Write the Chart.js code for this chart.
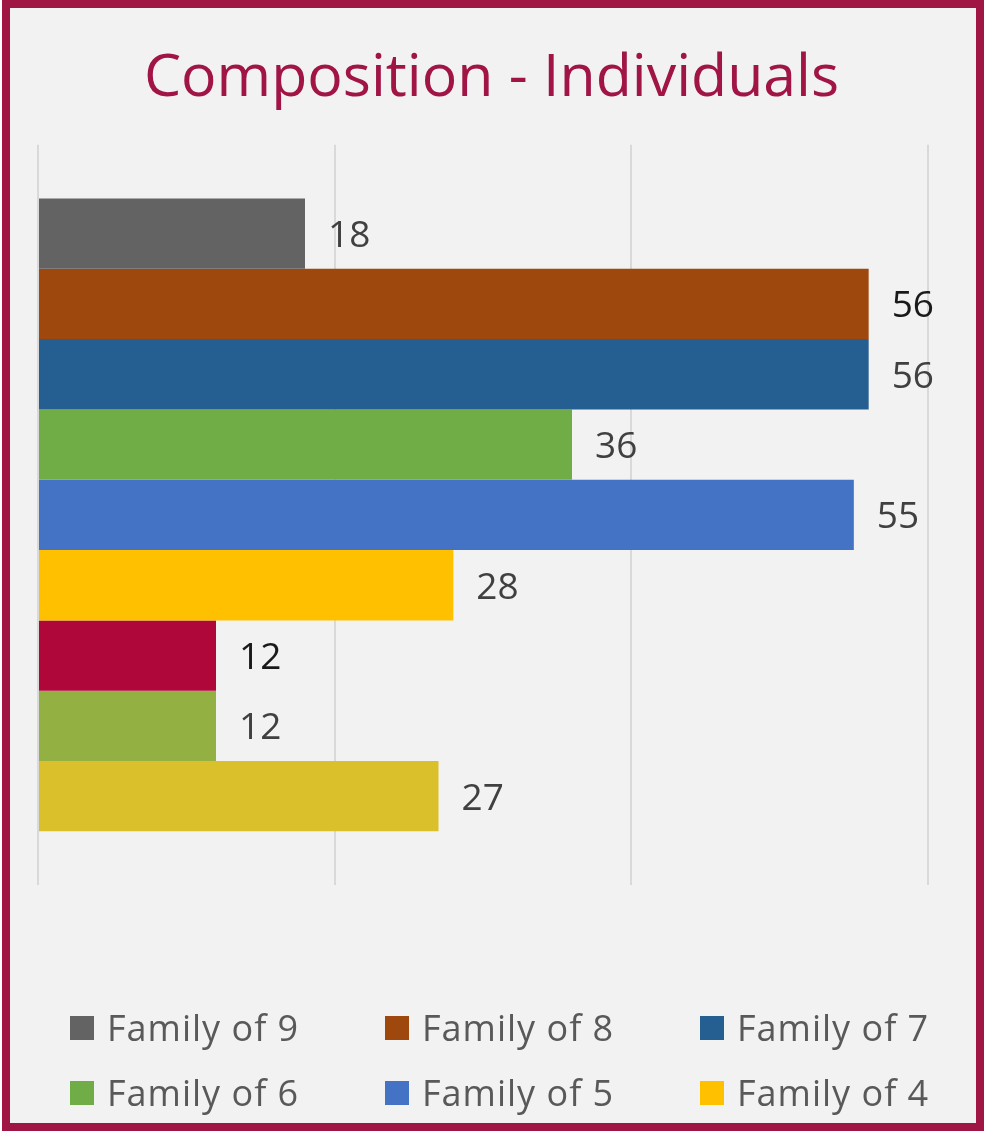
<!DOCTYPE html>
<html>
<head>
<meta charset="utf-8">
<title>Composition - Individuals</title>
<script src="https://cdn.jsdelivr.net/npm/chart.js@4.4.1/dist/chart.umd.min.js"></script>
<style>
    html, body {
        margin: 0;
        padding: 0;
        background: #ffffff;
    }
    .frame {
        position: absolute;
        left: 2px;
        top: 0;
        width: 982px;
        height: 1131px;
        box-sizing: border-box;
        border: 8px solid #9f1644;
        background: #f2f2f2;
    }
    .chart-wrap {
        position: absolute;
        left: 0;
        top: 0;
        width: 984px;
        height: 1132px;
    }
    .legend-item {
        position: absolute;
        display: flex;
        align-items: center;
        font-family: "Open Sans", sans-serif;
        font-size: 36px;
        letter-spacing: 1px;
        color: #595959;
        white-space: nowrap;
    }
    .legend-box {
        width: 24px;
        height: 24px;
        margin-right: 13px;
    }
</style>
</head>
<body>
<div class="frame"></div>
<div class="chart-wrap">
    <canvas id="composition-chart" width="984" height="1132"></canvas>
</div>
<div id="legend"></div>

<script>
// Chart data
const chartTitle = 'Composition - Individuals';
const familyLabels = ['Family of 9', 'Family of 8', 'Family of 7', 'Family of 6', 'Family of 5',
    'Family of 4', 'Family of 3', 'Family of 2', 'Family of 1'];
const individuals = [18, 56, 56, 36, 55, 28, 12, 12, 27];
const xTicks = [0, 20, 40, 60];

// Only the first six families show up in the legend of the original
const legendCount = 6;

const barColors = ['#636363', '#9e480e', '#255e91', '#70ad47', '#4472c4',
    '#ffc000', '#b0073a', '#93b042', '#dac02a'];
const labelColors = ['#404040', '#1a1a1a', '#404040', '#404040', '#404040',
    '#404040', '#1a1a1a', '#404040', '#404040'];

// Value labels at the end of each bar
const valueLabels = {
    id: 'valueLabels',
    afterDatasetsDraw(chart) {
        const ctx = chart.ctx;
        ctx.save();
        ctx.font = '37px "Open Sans", sans-serif';
        ctx.textAlign = 'left';
        ctx.textBaseline = 'middle';
        chart.data.datasets.forEach((ds, i) => {
            const meta = chart.getDatasetMeta(i);
            meta.data.forEach((bar, j) => {
                ctx.fillStyle = labelColors[i];
                ctx.fillText(ds.data[j], bar.x + 23, bar.y + 3);
            });
        });
        ctx.restore();
    }
};

const datasets = familyLabels.map((name, i) => ({
    label: name,
    data: [individuals[i]],
    backgroundColor: barColors[i],
    borderWidth: 0,
    barPercentage: 1,
    categoryPercentage: 0.855
}));

// Blank side axes keep the plot inset while the title stays centred on the page
const blankAxis = (position, width) => ({
    type: 'linear',
    position: position,
    display: true,
    ticks: { display: false },
    grid: { display: false },
    border: { display: false },
    afterFit: axis => { axis.width = width; }
});

const ctx = document.getElementById('composition-chart').getContext('2d');
const chart = new Chart(ctx, {
    type: 'bar',
    data: {
        labels: [''],
        datasets: datasets
    },
    options: {
        indexAxis: 'y',
        responsive: false,
        animation: false,
        layout: {
            padding: { left: 0, right: 1, top: 0, bottom: 247 }
        },
        plugins: {
            legend: { display: false },
            tooltip: { enabled: false },
            title: {
                display: true,
                text: chartTitle,
                color: '#a01446',
                font: { family: '"Open Sans", sans-serif', size: 59, weight: 'normal' },
                padding: { top: 44, bottom: 30 }
            }
        },
        scales: {
            x: {
                min: xTicks[0],
                max: xTicks[xTicks.length - 1],
                afterBuildTicks: axis => {
                    axis.ticks = xTicks.map(v => ({ value: v }));
                },
                ticks: { display: false },
                border: { display: false },
                grid: { color: '#d9d9d9', lineWidth: 2, drawTicks: false }
            },
            y: {
                position: 'left',
                display: true,
                ticks: { display: false },
                grid: { display: false },
                border: { display: false },
                afterFit: axis => { axis.width = 38; }
            },
            yRight: blankAxis('right', 55)
        }
    },
    plugins: [valueLabels]
});

// HTML legend, three per row
function buildLegend() {
    const legend = document.getElementById('legend');
    legend.innerHTML = '';
    familyLabels.slice(0, legendCount).forEach((name, i) => {
        const item = document.createElement('div');
        item.className = 'legend-item';
        item.style.left = (70 + (i % 3) * 315) + 'px';
        item.style.top = (1003 + Math.floor(i / 3) * 65) + 'px';
        item.innerHTML = `<span class="legend-box" style="background:${barColors[i]}"></span>${name}`;
        legend.appendChild(item);
    });
}
buildLegend();
</script>
</body>
</html>
